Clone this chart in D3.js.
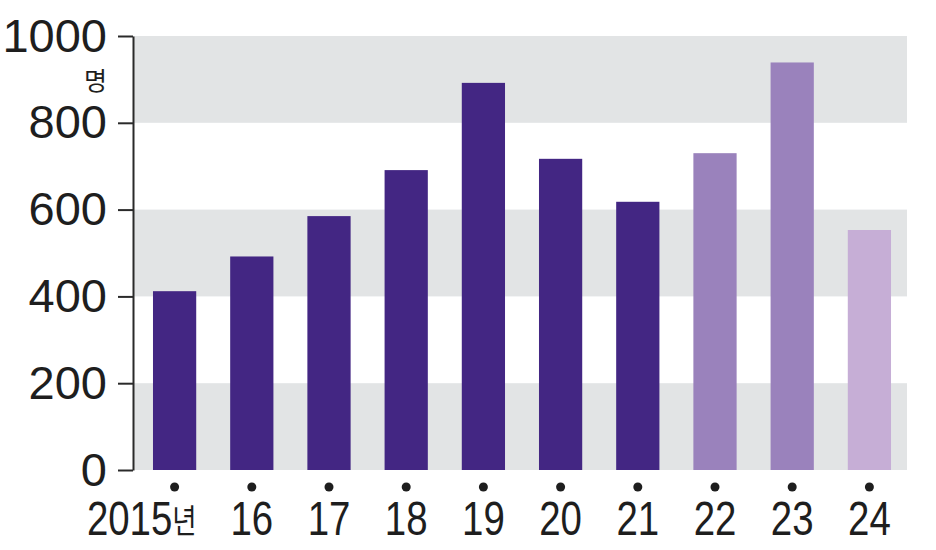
<!DOCTYPE html>
<html>
  <head>
    <meta charset="utf-8">
    <style>
    body { margin: 0; border: 0; overflow: hidden; background: #fff; }
    text { font-family: "Liberation Sans", sans-serif; fill: #1e1e1e; }
    .axis path, .axis line { fill: none; stroke: #2a2a2a; stroke-width: 2px; }
    </style>
  </head>
  <body>
    <script src="https://cdnjs.cloudflare.com/ajax/libs/d3/7.8.5/d3.min.js"></script>
    <script>
var years = ["2015", "16", "17", "18", "19", "20", "21", "22", "23", "24"];
var values = [412, 492, 585, 691, 892, 717, 618, 730, 939, 553];
var barColors = ["#432683", "#432683", "#432683", "#432683", "#432683", "#432683", "#432683", "#9a82bc", "#9a82bc", "#c6aed6"];
var yTicks = [0, 200, 400, 600, 800, 1000];
var bands = [[0, 200], [400, 600], [800, 1000]];

var width = 936, height = 550;

var svg = d3.select("body").append("svg")
    .attr("width", width)
    .attr("height", height);

var x = d3.scaleBand().domain(years).range([136, 908])
    .paddingInner(0.44).paddingOuter(0.22);
var y = d3.scaleLinear().domain([0, 1000]).range([470, 36]);

// grey bands
svg.selectAll("rect.band")
  .data(bands)
  .enter().append("rect")
    .attr("class", "band")
    .attr("x", 133)
    .attr("width", 907 - 133)
    .attr("y", function(d) { return y(d[1]); })
    .attr("height", function(d) { return y(d[0]) - y(d[1]); })
    .attr("fill", "#e2e4e5");

// bars
svg.selectAll("rect.bar")
  .data(values)
  .enter().append("rect")
    .attr("class", "bar")
    .attr("x", function(d, i) { return x(years[i]); })
    .attr("width", x.bandwidth())
    .attr("y", function(d) { return y(d); })
    .attr("height", function(d) { return y(0) - y(d); })
    .attr("fill", function(d, i) { return barColors[i]; });

// y axis
var yAxis = d3.axisLeft(y)
  .tickValues(yTicks)
  .tickSize(15)
  .tickSizeOuter(0)
  .tickPadding(11)
  .tickFormat(d3.format("d"));

var yg = svg.append("g")
  .attr("class", "axis")
  .attr("transform", "translate(133,0)")
  .call(yAxis);

yg.selectAll("text")
  .attr("font-size", 47)
  .attr("font-family", "'Liberation Sans', sans-serif")
  .attr("fill", "#1e1e1e");

svg.append("text")
  .attr("x", 107)
  .attr("y", 90)
  .attr("text-anchor", "end")
  .style("font-family", "'Noto Sans CJK KR', sans-serif")
  .attr("font-size", 25)
  .text("명");

// dots under bars
svg.selectAll("circle.dot")
  .data(years)
  .enter().append("circle")
    .attr("cx", function(d) { return x(d) + x.bandwidth() / 2; })
    .attr("cy", 487)
    .attr("r", 4.5)
    .attr("fill", "#1e1e1e");

// x labels (condensed look)
var lbl = svg.selectAll("g.xl")
  .data(years)
  .enter().append("g")
    .attr("class", "xl")
    .attr("transform", function(d, i) {
      return "translate(" + (x(d) + x.bandwidth() / 2 + (i == 0 ? 22 : 0)) + ",535)";
    })
  .append("text")
    .attr("transform", "scale(0.8,1)")
    .attr("text-anchor", function(d, i) { return i == 0 ? "end" : "middle"; })
    .attr("font-size", 48);

lbl.append("tspan").text(function(d) { return d; });
lbl.filter(function(d, i) { return i == 0; })
  .append("tspan")
    .style("font-family", "'Noto Sans CJK KR', sans-serif")
    .attr("font-size", 33)
    .attr("dy", -2)
    .text("년");
    </script>
  </body>
</html>
